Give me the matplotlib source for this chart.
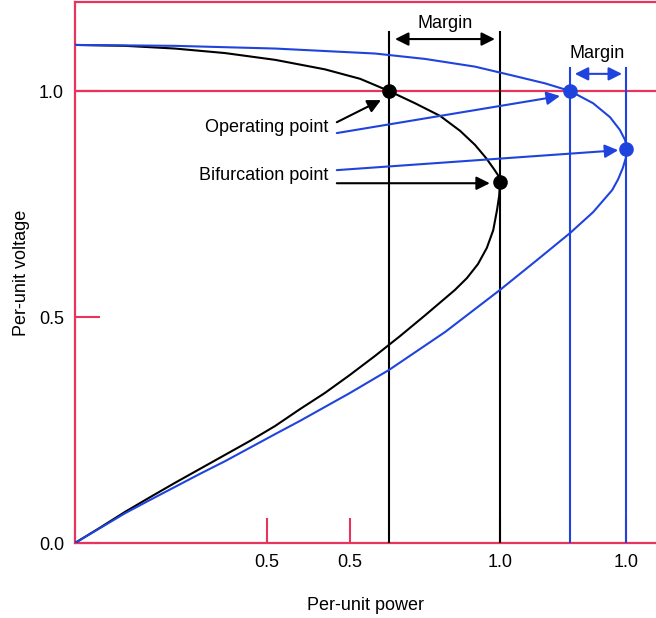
import matplotlib
matplotlib.use("Agg")
import matplotlib.pyplot as plt

plt.rcParams['font.family'] = ['Liberation Sans', 'DejaVu Sans']

RED = '#e8345c'
BLUE = '#1f44dd'

# black PV curve, from no-load down through the nose to zero
black_p = [0.0, 0.118, 0.235, 0.353, 0.471, 0.588, 0.671, 0.739, 0.800, 0.859, 0.906,
           0.941, 0.967, 0.986, 0.998, 1.0, 0.998, 0.993, 0.984, 0.969, 0.948, 0.922,
           0.894, 0.859, 0.824, 0.765, 0.706, 0.647, 0.588, 0.529, 0.471, 0.412,
           0.353, 0.294, 0.235, 0.176, 0.118, 0.059, 0.0]
black_v = [1.102, 1.100, 1.094, 1.084, 1.069, 1.048, 1.027, 1.0, 0.973, 0.945, 0.912,
           0.881, 0.852, 0.827, 0.810, 0.799, 0.768, 0.737, 0.692, 0.653, 0.617, 0.586,
           0.560, 0.532, 0.504, 0.458, 0.414, 0.372, 0.332, 0.296, 0.259, 0.226,
           0.195, 0.164, 0.133, 0.101, 0.069, 0.034, 0.0]

# blue PV curve
blue_p = [0.0, 0.235, 0.471, 0.706, 0.824, 0.941, 1.031, 1.106, 1.165, 1.219, 1.259,
          1.282, 1.294, 1.299, 1.296, 1.289, 1.278, 1.264, 1.242, 1.219, 1.165, 1.087,
          1.0, 0.871, 0.739, 0.647, 0.588, 0.529, 0.471, 0.412, 0.353, 0.294, 0.235,
          0.176, 0.118, 0.059, 0.0]
blue_v = [1.102, 1.100, 1.094, 1.083, 1.071, 1.054, 1.034, 1.017, 1.0, 0.973, 0.942,
          0.914, 0.892, 0.872, 0.852, 0.830, 0.805, 0.781, 0.757, 0.732, 0.686, 0.626,
          0.560, 0.467, 0.383, 0.332, 0.301, 0.270, 0.241, 0.211, 0.181, 0.153, 0.124,
          0.095, 0.066, 0.033, 0.0]

# operating and bifurcation points
black_op = (0.739, 1.0)
black_nose = (1.0, 0.799)
blue_op = (1.165, 1.0)
blue_nose = (1.297, 0.872)

xtick_pos = [0.452, 0.647, 1.0, 1.296]
xtick_lab = ['0.5', '0.5', '1.0', '1.0']
ytick_pos = [0.0, 0.5, 1.0]
ytick_lab = ['0.0', '0.5', '1.0']

fig = plt.figure(figsize=(6.56, 6.18), dpi=100)
ax = fig.add_axes([75/656, 1-543/618, 1-75/656, (543-2)/618])
ax.set_xlim(0, 1.367)
ax.set_ylim(0, 1.197)

for s in ['left', 'bottom', 'top']:
    ax.spines[s].set_color(RED)
    ax.spines[s].set_linewidth(1.6)
ax.spines['right'].set_visible(False)

ax.axhline(1.0, color=RED, lw=1.6, zorder=1)

ax.set_xticks(xtick_pos)
ax.set_xticklabels(xtick_lab)
ax.set_yticks(ytick_pos)
ax.set_yticklabels(ytick_lab)
ax.tick_params(direction='in', length=18, width=1.5, color=RED, labelsize=13)
ax.tick_params(axis='x', pad=8)
ax.tick_params(axis='y', pad=8)

ax.set_xlabel('Per-unit power', fontsize=13, labelpad=19)
ax.set_ylabel('Per-unit voltage', fontsize=13, labelpad=6)

# vertical marker lines
ax.plot([black_op[0]] * 2, [0, 1.131], color='black', lw=1.5, zorder=3)
ax.plot([black_nose[0]] * 2, [0, 1.131], color='black', lw=1.5, zorder=3)
ax.plot([blue_op[0]] * 2, [0, 1.051], color=BLUE, lw=1.5, zorder=3)
ax.plot([blue_nose[0]] * 2, [0, 1.051], color=BLUE, lw=1.5, zorder=3)

ax.plot(black_p, black_v, color='black', lw=1.5, zorder=4)
ax.plot(blue_p, blue_v, color=BLUE, lw=1.5, zorder=4)

ax.plot(*zip(black_op, black_nose), 'o', color='black', ms=9.5, ls='none', zorder=6)
ax.plot(*zip(blue_op, blue_nose), 'o', color=BLUE, ms=9.5, ls='none', zorder=6)

# margin arrows
ax.annotate('', xy=(0.988, 1.115), xytext=(0.753, 1.115),
            arrowprops=dict(arrowstyle='<|-|>', color='black', lw=1.5,
                            mutation_scale=20, shrinkA=0, shrinkB=0))
ax.text(0.87, 1.150, 'Margin', ha='center', va='center', fontsize=13)
ax.annotate('', xy=(1.287, 1.038), xytext=(1.176, 1.038),
            arrowprops=dict(arrowstyle='<|-|>', color=BLUE, lw=1.5,
                            mutation_scale=20, shrinkA=0, shrinkB=0))
ax.text(1.228, 1.084, 'Margin', ha='center', va='center', fontsize=13)

# labels with pointers
ax.text(0.595, 0.920, 'Operating point', ha='right', va='center', fontsize=13)
ax.text(0.595, 0.814, 'Bifurcation point', ha='right', va='center', fontsize=13)

ap = dict(arrowstyle='-|>', lw=1.5, mutation_scale=20, shrinkA=0, shrinkB=0)
ax.annotate('', xy=(0.72, 0.980), xytext=(0.616, 0.931), arrowprops=dict(ap, color='black'), zorder=5)
ax.annotate('', xy=(1.141, 0.989), xytext=(0.616, 0.907), arrowprops=dict(ap, color=BLUE), zorder=5)
ax.annotate('', xy=(1.278, 0.869), xytext=(0.616, 0.825), arrowprops=dict(ap, color=BLUE), zorder=5)
ax.annotate('', xy=(0.976, 0.796), xytext=(0.616, 0.796), arrowprops=dict(ap, color='black'), zorder=5)

fig.savefig('out.png', dpi=100)
